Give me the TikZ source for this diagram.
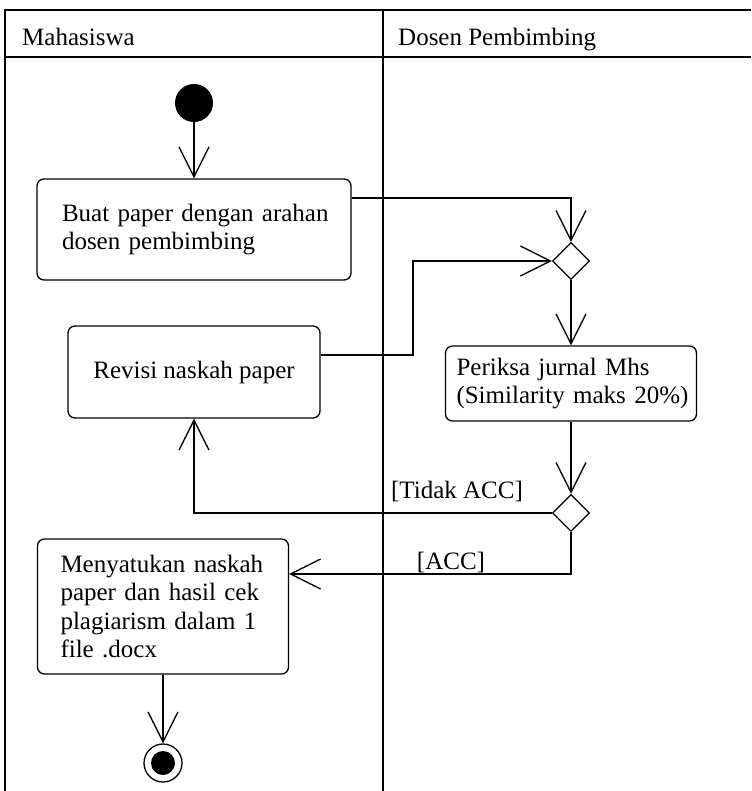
\documentclass[tikz,border=0pt]{standalone}
\usepackage{fontspec}
\setmainfont{Liberation Serif}
\usetikzlibrary{arrows.meta,shapes.geometric}
\hbadness=10000 \hfuzz=100pt
\begin{document}
\begin{tikzpicture}[x=1pt,y=-1pt,
  every node/.style={font=\fontsize{25}{28.5}\selectfont},
  act/.style={draw, rounded corners=7pt, line width=1.3pt, inner ysep=0pt},
  dec/.style={draw, diamond, aspect=1, minimum width=37pt, minimum height=37pt, inner sep=0pt, line width=1.3pt},
  flow/.style={line width=1.3pt, -{Straight Barb[length=30pt,width=30pt,line width=1.3pt]}},
  lane/.style={line width=1.6pt},
  lbl/.style={inner sep=0pt}]
\useasboundingbox (0,0) rectangle (751,791);
% frame
\draw[lane] (5,791) -- (5,10) -- (751,10);
\draw[lane] (5,57) -- (751,57);
\draw[lane] (383,10) -- (383,791);
\node[lbl, anchor=base west] (h1) at (22,46) {Mahasiswa};
\node[lbl, anchor=base west] (h2) at (398,46) {Dosen Pembimbing};
% nodes
\node[circle, fill=black, minimum size=38pt, inner sep=0pt] (start) at (194,103) {};
\node[act, minimum width=314pt, minimum height=101pt, inner xsep=25pt, text width=264pt, align=left] (buat) at (194,229.5) {\mbox{Buat paper dengan arahan}\\\mbox{dosen pembimbing}};
\node[act, minimum width=252pt, minimum height=92pt, align=center] (revisi) at (194,372) {Revisi naskah paper};
\node[dec] (d1) at (571,261) {};
\node[act, minimum width=251pt, minimum height=75pt, inner xsep=11pt, text width=229pt, align=left] (periksa) at (571,383.5) {\mbox{Periksa jurnal Mhs}\\\mbox{(Similarity maks 20\%)}};
\node[dec] (d2) at (571,513) {};
\node[act, minimum width=251pt, minimum height=135pt, inner xsep=23pt, text width=205pt, align=left] (satu) at (163,606.5) {\mbox{Menyatukan naskah}\\\mbox{paper dan hasil cek}\\\mbox{plagiarism dalam 1}\\\mbox{file .docx}};
\node[circle, draw, line width=1.3pt, minimum size=38pt, inner sep=0pt] (end) at (163,763) {};
\node[circle, fill=black, minimum size=24pt, inner sep=0pt] (endin) at (163,763) {};
% coordinates
\coordinate (j1) at (571,198);
\coordinate (j2) at (413,355);
\coordinate (j3) at (571,574);
% connectors
\draw[flow] (start) -- (buat);
\draw[flow] (buat.east |- j1) -- (j1) -- (d1.north);
\draw[flow] (revisi.east |- j2) -- (j2) |- (d1.west);
\draw[flow] (d1.south) -- (periksa.north);
\draw[flow] (periksa.south) -- (d2.north);
\draw[flow] (d2.west) -| (revisi.south);
\draw[flow] (d2.south) -- (j3) -- (satu.east |- j3);
\draw[flow] (satu.south) -- (end.north);
% guards
\node[lbl] (g1) at (457,491) {[Tidak ACC]};
\node[lbl] (g2) at (451,562) {[ACC]};
\end{tikzpicture}
\end{document}
